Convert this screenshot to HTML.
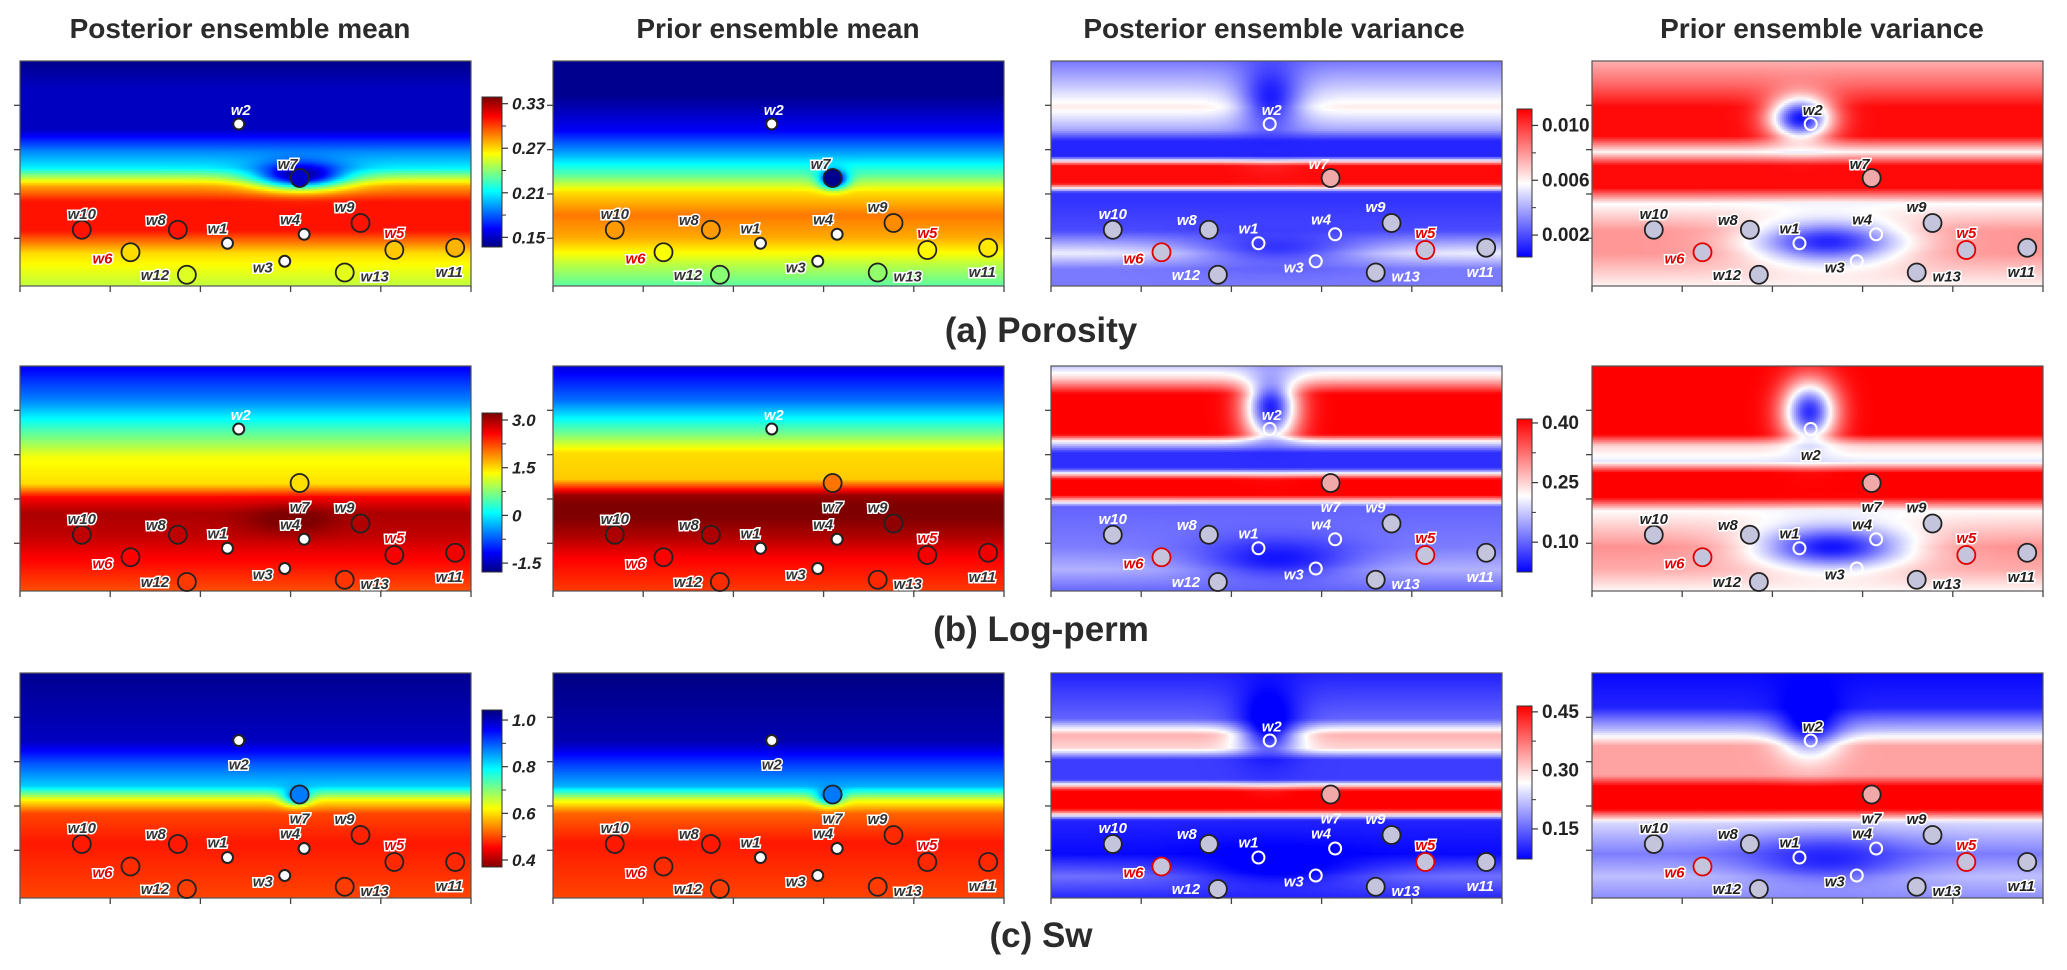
<!DOCTYPE html>
<html><head><meta charset="utf-8">
<style>
body{margin:0;background:#fff;width:2067px;height:970px;overflow:hidden;position:relative;font-family:"Liberation Sans",sans-serif;}
.ct{position:absolute;font-weight:bold;font-size:28px;color:#2b2b2b;transform:translate(-50%,-50%);white-space:nowrap;}
.rt{position:absolute;font-weight:bold;font-size:35px;color:#2b2b2b;transform:translate(-50%,-50%);white-space:nowrap;}
canvas{position:absolute;}
svg{position:absolute;left:0;top:0;}
</style></head>
<body>
<div class="ct" style="left:240px;top:29px">Posterior ensemble mean</div>
<div class="ct" style="left:778px;top:29px">Prior ensemble mean</div>
<div class="ct" style="left:1274px;top:29px">Posterior ensemble variance</div>
<div class="ct" style="left:1822px;top:29px">Prior ensemble variance</div>
<div class="rt" style="left:1041px;top:331px">(a) Porosity</div>
<div class="rt" style="left:1041px;top:630px">(b) Log-perm</div>
<div class="rt" style="left:1041px;top:936px">(c) Sw</div>
<svg id="ov" width="2067" height="970"></svg>
<script>
// ---- data ----
const wellNames=["w1","w2","w3","w4","w5","w6","w7","w8","w9","w10","w11","w12","w13"];
const wellX=[0.46,0.485,0.587,0.63,0.83,0.245,0.62,0.35,0.755,0.137,0.965,0.37,0.72];
const wellYa=[0.81,0.28,0.89,0.77,0.84,0.85,0.52,0.75,0.72,0.75,0.83,0.95,0.94];
const wellYb=[0.81,0.28,0.90,0.77,0.84,0.85,0.52,0.75,0.70,0.75,0.83,0.96,0.95];
const wellYc=[0.82,0.30,0.90,0.78,0.84,0.86,0.54,0.76,0.72,0.76,0.84,0.96,0.95];

const a1Depth=[0,0.12,0.3,0.4,0.47,0.55,0.62,0.75,0.85,1];
const a1Vals=[0.14,0.15,0.15,0.19,0.21,0.28,0.31,0.31,0.27,0.25];
const a2Depth=[0,0.15,0.3,0.42,0.5,0.58,0.68,0.78,0.9,1];
const a2Vals=[0.14,0.14,0.16,0.2,0.23,0.27,0.29,0.28,0.25,0.23];
const a3Depth=[0,0.1,0.2,0.3,0.35,0.42,0.46,0.54,0.58,0.62,0.75,0.85,0.92,1];
const a3Vals=[0.003,0.0045,0.0062,0.004,0.0012,0.0012,0.011,0.011,0.0015,0.0015,0.002,0.0055,0.003,0.003];
const a4Depth=[0,0.1,0.2,0.33,0.4,0.46,0.56,0.63,0.75,0.85,1];
const a4Vals=[0.0075,0.009,0.011,0.011,0.006,0.011,0.011,0.0058,0.008,0.008,0.006];
const b1Depth=[0,0.15,0.3,0.4,0.52,0.58,0.65,0.75,0.85,1];
const b1Vals=[-1.2,-0.5,0.6,1.3,1.5,2.6,3.0,2.9,2.6,2.2];
const b2Depth=[0,0.15,0.3,0.38,0.5,0.57,0.64,0.75,0.85,1];
const b2Vals=[-1.3,-0.6,0.7,1.5,1.6,3.1,3.3,3.0,2.6,2.3];
const b3Depth=[0,0.05,0.12,0.3,0.33,0.38,0.45,0.5,0.57,0.62,0.8,0.9,1];
const b3Vals=[0.18,0.25,0.41,0.41,0.22,0.06,0.06,0.41,0.41,0.1,0.12,0.16,0.1];
const b4Depth=[0,0.1,0.3,0.35,0.42,0.47,0.58,0.64,0.8,0.9,1];
const b4Vals=[0.41,0.41,0.41,0.25,0.2,0.41,0.41,0.22,0.3,0.28,0.22];
const c1Depth=[0,0.3,0.4,0.5,0.56,0.62,0.75,1];
const c1Vals=[1.03,1.0,0.9,0.82,0.62,0.5,0.47,0.5];
const c2Depth=[0,0.3,0.4,0.5,0.56,0.62,0.75,1];
const c2Vals=[1.04,1.01,0.92,0.84,0.64,0.52,0.47,0.5];
const c3Depth=[0,0.2,0.27,0.33,0.38,0.47,0.52,0.6,0.65,0.8,0.9,1];
const c3Vals=[0.1,0.15,0.33,0.3,0.12,0.12,0.47,0.47,0.1,0.08,0.16,0.1];
const c4Depth=[0,0.15,0.25,0.32,0.45,0.5,0.6,0.66,0.8,0.9,1];
const c4Vals=[0.08,0.1,0.22,0.34,0.34,0.47,0.47,0.24,0.17,0.22,0.18];
// blobs: centre x, centre y, radius x, radius y, value
const a3Blobs=[[0.485,0.15,0.07,0.18,0.001],[0.5,0.82,0.2,0.1,0.0015]];
const a4Blobs=[[0.46,0.25,0.07,0.1,0.0008],[0.52,0.8,0.17,0.1,0.0012]];
const b3Blobs=[[0.485,0.18,0.06,0.16,0.05],[0.5,0.85,0.18,0.1,0.04]];
const b4Blobs=[[0.48,0.2,0.06,0.14,0.06],[0.53,0.8,0.17,0.1,0.04]];
const c3Blobs=[[0.48,0.2,0.07,0.18,0.05],[0.5,0.85,0.2,0.1,0.06]];
const c4Blobs=[[0.48,0.18,0.07,0.16,0.05],[0.52,0.82,0.18,0.1,0.1]];
const a1Blobs=[[0.62,0.5,0.1,0.06,0.14]];
const a2Blobs=[[0.62,0.52,0.03,0.04,0.14]];
const b1Blobs=[[0.6,0.68,0.1,0.06,3.3]];
const c1Blobs=[[0.61,0.54,0.03,0.04,0.9]];
const c2Blobs=[[0.61,0.54,0.03,0.04,0.9]];
const noBlobs=[];

const cbA1=[0.33,0.27,0.21,0.15], cbB1=[3.0,1.5,0,-1.5], cbC1=[1.0,0.8,0.6,0.4];
const cbA3=[0.010,0.006,0.002], cbB3=[0.40,0.25,0.10], cbC3=[0.45,0.30,0.15];
const cbA1Txt=["0.33","0.27","0.21","0.15"], cbB1Txt=["3.0","1.5","0","-1.5"], cbC1Txt=["1.0","0.8","0.6","0.4"];
const cbA3Txt=["0.010","0.006","0.002"], cbB3Txt=["0.40","0.25","0.10"], cbC3Txt=["0.45","0.30","0.15"];

// ---- layout ----
const colX=[20,553,1051,1592], PW=451, PH=225;
const rowY=[61,366,673];
const ranges=[[0.137,0.339,0.0004,0.0112],[ -1.78,3.22,0.025,0.41],[0.37,1.043,0.073,0.465]];
const cmaps=[["jet","jet","bwr","bwr"],["jet","jet","bwr","bwr"],["jetr","jetr","bwr","bwr"]];
const panels=[
 [[a1Depth,a1Vals,a1Blobs],[a2Depth,a2Vals,a2Blobs],[a3Depth,a3Vals,a3Blobs],[a4Depth,a4Vals,a4Blobs]],
 [[b1Depth,b1Vals,b1Blobs],[b2Depth,b2Vals,noBlobs],[b3Depth,b3Vals,b3Blobs],[b4Depth,b4Vals,b4Blobs]],
 [[c1Depth,c1Vals,c1Blobs],[c2Depth,c2Vals,c2Blobs],[c3Depth,c3Vals,c3Blobs],[c4Depth,c4Vals,c4Blobs]]];
const wellYs=[wellYa,wellYb,wellYc];
const rowNames=["porosity","logperm","sw"], colNames=["posterior-mean","prior-mean","posterior-variance","prior-variance"];

function cl(v){return Math.max(0,Math.min(1,v));}
function color(t,map){
 t=cl(t);
 if(map==="jetr") t=1-t;
 if(map==="bwr"){
  if(t<0.5){const k=t/0.5;return [255*k,255*k,255];}
  const k=(t-0.5)/0.5;return [255,255*(1-k),255*(1-k)];
 }
 return [255*cl(1.5-Math.abs(4*t-3)),255*cl(1.5-Math.abs(4*t-2)),255*cl(1.5-Math.abs(4*t-1))];
}
function profile(d,depth,vals){
 if(d<=depth[0])return vals[0];
 for(let i=1;i<depth.length;i++){ if(d<=depth[i]){const f=(d-depth[i-1])/(depth[i]-depth[i-1]);return vals[i-1]+(vals[i]-vals[i-1])*f;} }
 return vals[vals.length-1];
}
function field(x,y,p){
 let v=profile(y,p[0],p[1]);
 for(const b of p[2]){const dx=(x-b[0])/b[2],dy=(y-b[1])/b[3];const w=Math.exp(-(dx*dx+dy*dy));v=v*(1-w)+b[4]*w;}
 return v;
}
const ov=document.getElementById('ov');
const NS="http://www.w3.org/2000/svg";
function mk(tag,attrs,parent){const e=document.createElementNS(NS,tag);for(const k in attrs)e.setAttribute(k,attrs[k]);(parent||ov).appendChild(e);return e;}

for(let r=0;r<3;r++)for(let c=0;c<4;c++){
 const p=panels[r][c];const isVar=c>=2;const rg=isVar?[ranges[r][2],ranges[r][3]]:[ranges[r][0],ranges[r][1]];
 const map=cmaps[r][c];
 const cv=document.createElement('canvas');cv.width=PW;cv.height=PH;
 cv.style.left=colX[c]+'px';cv.style.top=rowY[r]+'px';
 
 
 document.body.insertBefore(cv,ov);
 const ctx=cv.getContext('2d');const S=2;
 for(let yy=0;yy<PH;yy+=S)for(let xx=0;xx<PW;xx+=S){
  const v=field(xx/PW,yy/PH,p);const col=color((v-rg[0])/(rg[1]-rg[0]),map);
  ctx.fillStyle=`rgb(${col[0]|0},${col[1]|0},${col[2]|0})`;ctx.fillRect(xx,yy,S,S);
 }
 const g=mk('g',{});
 
 
 mk('rect',{x:colX[c],y:rowY[r],width:PW,height:PH,fill:'none',stroke:'#555','stroke-width':1.2},g);
 for(let i=1;i<=4;i++){const y=rowY[r]+PH*(i*0.197);mk('line',{x1:colX[c]-6,x2:colX[c],y1:y,y2:y,stroke:'#444','stroke-width':1.3},g);}
 for(let i=0;i<=5;i++){const x=colX[c]+PW*i/5;mk('line',{x1:x,x2:x,y1:rowY[r]+PH,y2:rowY[r]+PH+6,stroke:'#444','stroke-width':1.3},g);}
 const wy=wellYs[r];
 for(let i=0;i<wellNames.length;i++){
  const nm=wellNames[i];const cx=colX[c]+wellX[i]*PW,cy=rowY[r]+wy[i]*PH;
  const small=["w1","w2","w3","w4"].includes(nm);
  let fill,stroke='#222',rad=small?5.5:9;
  if(!isVar){
   if(small)fill='#fff';else{const v=field(wellX[i],wy[i],p);const col=color((v-rg[0])/(rg[1]-rg[0]),map);fill=`rgb(${col[0]|0},${col[1]|0},${col[2]|0})`;}
  }else{
   if(small){fill='none';stroke='#fff';rad=6;}
   else if(nm==="w7")fill='#f0a8a8';
   else fill='#c4c4dc';
   if(nm==="w5"||nm==="w6"){stroke='#e00000';}
  }
  const w=mk('circle',{cx:cx,cy:cy,r:rad,fill:fill,stroke:stroke,'stroke-width':small?2:1.8},g);
  
  
  let dx=-12,dy=-15,anchor='middle';
  if(nm==="w10"){dx=0;dy=-16;} if(nm==="w8"){dx=-22;dy=-10;} if(nm==="w1"){dx=-10;dy=-15;}
  if(nm==="w4"){dx=-14;dy=-15;} if(nm==="w9"){dx=-16;dy=-16;} if(nm==="w5"){dx=0;dy=-17;}
  if(nm==="w11"){dx=-6;dy=24;} if(nm==="w6"){dx=-28;dy=6;} if(nm==="w3"){dx=-22;dy=6;}
  if(nm==="w12"){dx=-32;dy=0;} if(nm==="w13"){dx=30;dy=4;} if(nm==="w2"){dx=2;dy=-14;}
  if(nm==="w7"){dx=-12;dy=-14;}
  if(r>0&&nm==="w7"){dx=0;dy=24;}
  if(r===2&&nm==="w2"&&c<2){dx=0;dy=24;}
  if(r===1&&nm==="w2"&&c===3){dx=0;dy=26;}
  let tcol='#333',halo='#fff';
  if(c===2){tcol='#fff';halo='none';}
  if(c===3){tcol='#222';}
  if(nm==="w5"||nm==="w6"){tcol='#e00000';halo='#fff';}
  if(!isVar&&nm==="w2"&&r<2){tcol='#fff';halo='none';}
  const t=mk('text',{x:cx+dx,y:cy+dy+5,'text-anchor':anchor,'font-family':'Liberation Sans, sans-serif','font-size':15,'font-weight':'bold','font-style':'italic',fill:tcol,stroke:halo,'stroke-width':halo==='none'?0:3,'paint-order':'stroke'},g);
  t.textContent=nm;
  
  
 }
}
const cbDefs=[
 {x:482,w:20,y0:97,y1:247,r:0,var:false,vals:cbA1,txt:cbA1Txt,map:'jet'},
 {x:482,w:20,y0:413,y1:572,r:1,var:false,vals:cbB1,txt:cbB1Txt,map:'jet'},
 {x:482,w:20,y0:710,y1:867,r:2,var:false,vals:cbC1,txt:cbC1Txt,map:'jetr'},
 {x:1517,w:15,y0:109,y1:257,r:0,var:true,vals:cbA3,txt:cbA3Txt,map:'bwr'},
 {x:1517,w:15,y0:419,y1:572,r:1,var:true,vals:cbB3,txt:cbB3Txt,map:'bwr'},
 {x:1517,w:15,y0:706,y1:859,r:2,var:true,vals:cbC3,txt:cbC3Txt,map:'bwr'}];
cbDefs.forEach((d,k)=>{
 const lo=d.var?ranges[d.r][2]:ranges[d.r][0],hi=d.var?ranges[d.r][3]:ranges[d.r][1];
 const g=mk('g',{});
 
 
 const H=d.y1-d.y0;
 for(let i=0;i<H;i++){const v=hi-(hi-lo)*i/H;const col=color((v-lo)/(hi-lo),d.map);
  mk('rect',{x:d.x,y:d.y0+i,width:d.w,height:1.2,fill:`rgb(${col[0]|0},${col[1]|0},${col[2]|0})`},g);}
 mk('rect',{x:d.x,y:d.y0,width:d.w,height:H,fill:'none',stroke:'#333','stroke-width':1},g);
 const yOf=v=>d.y0+(hi-v)/(hi-lo)*H;
 for(let i=0;i<d.vals.length;i++){
  const y=yOf(d.vals[i]);
  mk('line',{x1:d.x+d.w,x2:d.x+d.w+6,y1:y,y2:y,stroke:'#333','stroke-width':1.2},g);
  if(i<d.vals.length-1){const ym=yOf((d.vals[i]+d.vals[i+1])/2);mk('line',{x1:d.x+d.w,x2:d.x+d.w+4,y1:ym,y2:ym,stroke:'#333','stroke-width':1},g);}
  const t=mk('text',{x:d.x+d.w+10,y:y+6,'font-family':'Liberation Sans, sans-serif','font-size':d.var?19:17,'font-weight':'bold','font-style':d.var?'normal':'italic',fill:'#222'},g);
  t.textContent=d.txt[i];
  
  
 }
});
</script>
</body></html>
